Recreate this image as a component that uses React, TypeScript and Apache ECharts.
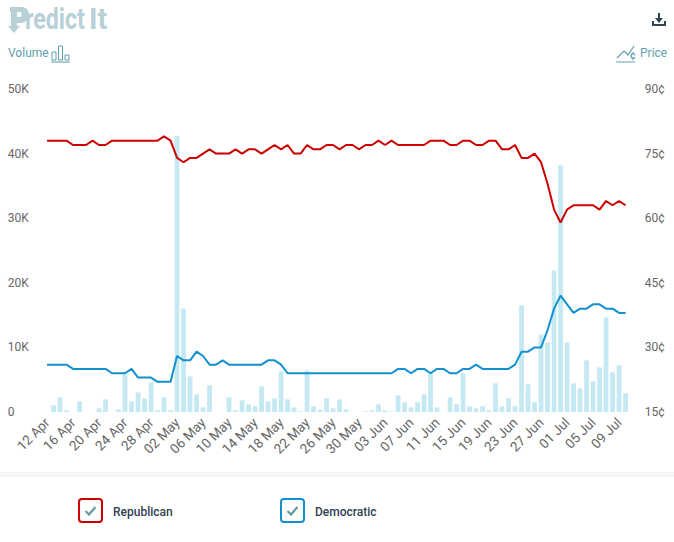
import React, { useEffect, useRef } from "react";
import * as echarts from "echarts";

const dates = [
  "12 Apr","13 Apr","14 Apr","15 Apr","16 Apr","17 Apr","18 Apr","19 Apr","20 Apr","21 Apr","22 Apr","23 Apr","24 Apr","25 Apr","26 Apr","27 Apr","28 Apr","29 Apr","30 Apr",
  "01 May","02 May","03 May","04 May","05 May","06 May","07 May","08 May","09 May","10 May","11 May","12 May","13 May","14 May","15 May","16 May","17 May","18 May","19 May","20 May","21 May","22 May","23 May","24 May","25 May","26 May","27 May","28 May","29 May","30 May","31 May",
  "01 Jun","02 Jun","03 Jun","04 Jun","05 Jun","06 Jun","07 Jun","08 Jun","09 Jun","10 Jun","11 Jun","12 Jun","13 Jun","14 Jun","15 Jun","16 Jun","17 Jun","18 Jun","19 Jun","20 Jun","21 Jun","22 Jun","23 Jun","24 Jun","25 Jun","26 Jun","27 Jun","28 Jun","29 Jun","30 Jun",
  "01 Jul","02 Jul","03 Jul","04 Jul","05 Jul","06 Jul","07 Jul","08 Jul","09 Jul","10 Jul",
];
const republican = [
  78,78,78,78,77,77,77,78,77,77,78,78,78,78,78,78,78,78,79,78,
  74,73,74,74,75,76,75,75,75,76,75,76,76,75,76,77,76,77,75,75,
  77,76,76,77,77,76,77,77,76,77,77,78,77,78,77,77,77,77,77,78,
  78,78,77,77,78,78,77,77,78,78,76,76,77,74,74,75,73,68,62,59,
  62,63,63,63,63,62,64,63,64,63,
];
const democratic = [
  26,26,26,26,25,25,25,25,25,25,24,24,24,25,23,23,23,22,22,22,
  28,27,27,29,28,26,26,27,26,26,26,26,26,26,27,27,26,24,24,24,
  24,24,24,24,24,24,24,24,24,24,24,24,24,24,25,25,24,25,25,24,
  25,25,24,24,25,25,26,25,25,25,25,25,26,29,29,30,30,34,39,42,
  40,38,39,39,40,40,39,39,38,38,
];
const volume = [
  0,1030,2270,260,0,1650,0,0,570,1960,0,410,5830,1650,3040,2110,4590,260,2270,260,
  42700,16000,5520,2730,720,4130,0,0,2270,260,1800,1190,880,3970,1650,2110,6300,1960,720,100,
  6450,880,410,2110,570,1960,410,0,0,100,260,1190,260,100,2580,1500,720,1500,2730,5990,
  720,0,2270,1190,5990,880,570,880,260,4440,880,2120,880,16500,4280,1500,12020,10780,21900,38200,
  10780,4440,3660,8000,4750,6910,14650,6140,7220,2890,
];
const volumeTicks = { min: 0, max: 50000, step: 10000 };
const priceTicks = { min: 15, max: 90, step: 15 };

const RED = "#cc0000";
const BLUE = "#1290d0";
const TEAL = "#5f9fb0";
const LOGO = "#b7d1d6";
const TICK = "#666666";
const FONT = "Roboto";

echarts.graphic.registerShape(
  "pArrow",
  echarts.graphic.extendPath(
    "M2 0 L13 0 C19 0 21 4 21 8 C21 13 17 16 12 16 L9 16 L9 19 L12 19 L6 26 L0 19 L3 19 L3 5 L2 5 Z M9 5 L9 10 L12 10 C14 10 14 5 12 5 Z",
    {}
  ) as any
);

function checkbox(x: number, color: string, label: string) {
  return [
    { type: "rect", shape: { x, y: 499, width: 23, height: 23, r: 3 }, style: { fill: "#fff", stroke: color, lineWidth: 2 } },
    { type: "polyline", shape: { points: [[x + 6.5, 511], [x + 10, 514.5], [x + 16.5, 507]] }, style: { stroke: "#6c9ea5", lineWidth: 2.4, fill: "none" } },
    { type: "text", x: x + 34, y: 512, style: { text: label, fill: "#2f4152", font: `500 12px ${FONT}`, textVerticalAlign: "middle" } },
  ];
}

export default function App() {
  const ref = useRef<HTMLDivElement>(null);
  useEffect(() => {
    const chart = echarts.init(ref.current!, undefined, { renderer: "svg" });
    chart.setOption({
      animation: false,
      backgroundColor: "#fff",
      grid: { left: 43.8, right: 45.2, top: 89, bottom: 130 },
      xAxis: {
        type: "category",
        data: dates,
        boundaryGap: true,
        axisLine: { show: false },
        axisTick: { show: false },
        axisLabel: { interval: 3, rotate: 45, color: TICK, fontFamily: FONT, fontSize: 13.5, margin: 8 },
      },
      yAxis: [
        {
          type: "value",
          min: volumeTicks.min,
          max: volumeTicks.max,
          interval: volumeTicks.step,
          splitLine: { show: false },
          axisLine: { show: false },
          axisTick: { show: false },
          axisLabel: {
            color: TICK, fontFamily: FONT, fontSize: 12, align: "left", margin: 36,
            formatter: (v: number) => (v === 0 ? "0" : `${v / 1000}K`),
          },
        },
        {
          type: "value",
          position: "right",
          min: priceTicks.min,
          max: priceTicks.max,
          interval: priceTicks.step,
          splitLine: { show: false },
          axisLine: { show: false },
          axisTick: { show: false },
          axisLabel: {
            color: TICK, fontFamily: FONT, fontSize: 12, align: "right", margin: 36,
            formatter: (v: number) => `${v}¢`,
          },
        },
      ],
      series: [
        { name: "Volume", type: "bar", yAxisIndex: 0, data: volume, barWidth: 4.8, itemStyle: { color: "#c5e9f2" }, z: 1 },
        { name: "Republican", type: "line", yAxisIndex: 1, data: republican, showSymbol: false, symbol: "none", lineStyle: { color: RED, width: 2 }, z: 3 },
        { name: "Democratic", type: "line", yAxisIndex: 1, data: democratic, showSymbol: false, symbol: "none", lineStyle: { color: BLUE, width: 2 }, z: 3 },
      ],
      graphic: [
        // logo
        { type: "pArrow", x: 8, y: 7, style: { fill: LOGO } },
        { type: "text", x: 25, y: 19, scaleX: 0.8, style: { text: "redict", fill: LOGO, font: `bold 29px ${FONT}`, textVerticalAlign: "middle" } },
        { type: "text", x: 89, y: 19, scaleX: 1, style: { text: "It", fill: LOGO, font: `bold 29px ${FONT}`, textVerticalAlign: "middle" } },
        // download icon
        { type: "polyline", shape: { points: [[653, 21], [653, 25], [665, 25], [665, 21]] }, style: { stroke: "#2f4550", lineWidth: 2, fill: "none" } },
        { type: "line", shape: { x1: 659, y1: 13, x2: 659, y2: 21 }, style: { stroke: "#2f4550", lineWidth: 2 } },
        { type: "polygon", shape: { points: [[655, 18], [663, 18], [659, 23]] }, style: { fill: "#2f4550" } },
        // Volume header
        { type: "text", x: 8, y: 53, style: { text: "Volume", fill: TEAL, font: `12px ${FONT}`, textVerticalAlign: "middle" } },
        { type: "rect", shape: { x: 52, y: 52, width: 4, height: 8 }, style: { fill: "none", stroke: TEAL, lineWidth: 1 } },
        { type: "rect", shape: { x: 58.5, y: 46, width: 4, height: 14 }, style: { fill: "none", stroke: TEAL, lineWidth: 1 } },
        { type: "rect", shape: { x: 65, y: 55, width: 4, height: 5 }, style: { fill: "none", stroke: TEAL, lineWidth: 1 } },
        { type: "line", shape: { x1: 51, y1: 62, x2: 70, y2: 62 }, style: { stroke: TEAL, lineWidth: 1 } },
        // Price header
        { type: "polyline", shape: { points: [[617, 58], [624, 51], [628, 55], [634, 46]] }, style: { stroke: TEAL, lineWidth: 1.2, fill: "none" } },
        { type: "text", x: 630, y: 55, style: { text: "¢", fill: TEAL, font: `bold 10px ${FONT}`, textVerticalAlign: "middle" } },
        { type: "line", shape: { x1: 616, y1: 62, x2: 635, y2: 62 }, style: { stroke: TEAL, lineWidth: 1 } },
        { type: "text", x: 640, y: 53, style: { text: "Price", fill: TEAL, font: `12px ${FONT}`, textVerticalAlign: "middle" } },
        // separator band
        { type: "rect", shape: { x: 0, y: 472, width: 674, height: 5 }, style: { fill: "#f6f6f8" } },
        ...checkbox(79, RED, "Republican"),
        ...checkbox(281, BLUE, "Democratic"),
      ],
    });
    return () => chart.dispose();
  }, []);
  return <div ref={ref} style={{ position: "absolute", left: 0, top: 0, width: 674, height: 542 }} />;
}
